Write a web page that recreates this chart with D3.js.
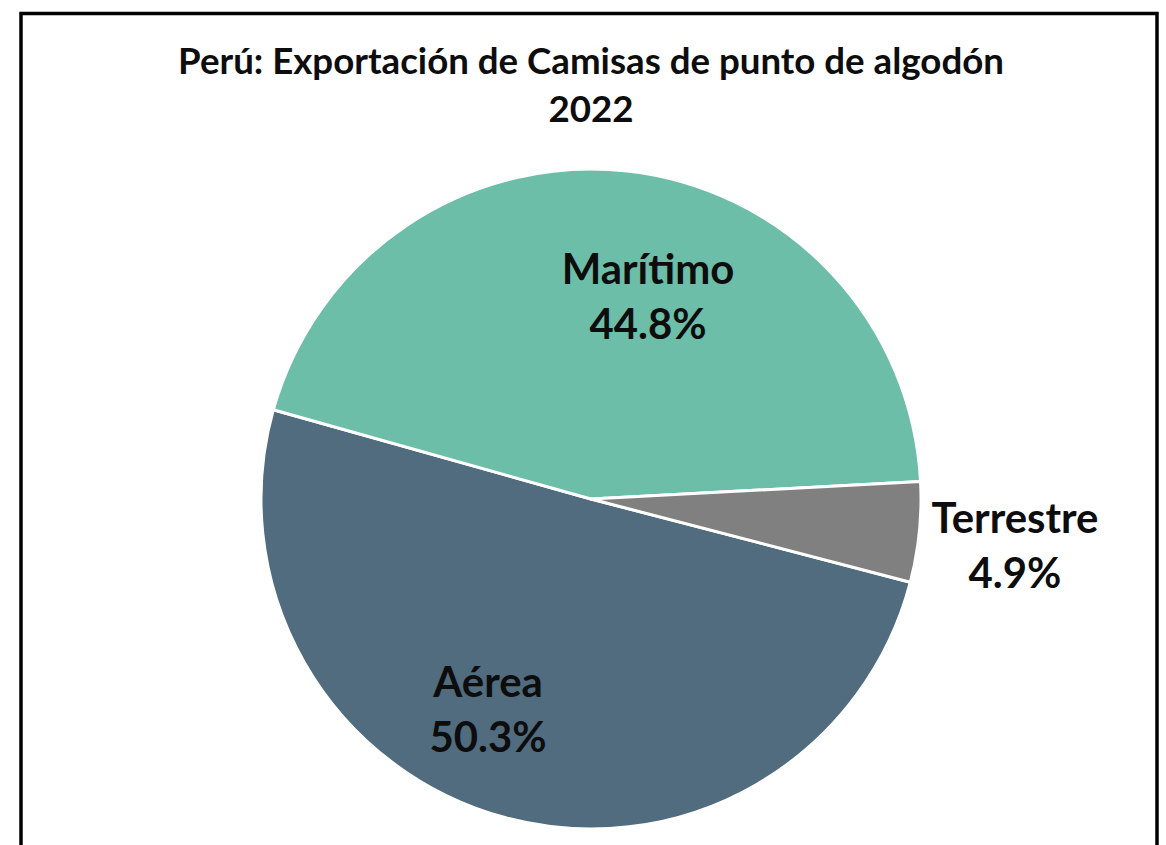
<!DOCTYPE html>
<html>
<head>
<meta charset="utf-8">
<script src="https://cdn.jsdelivr.net/npm/d3@7"></script>
<style>
  html, body { margin: 0; padding: 0; background: #fff; }
  svg { display: block; }
  text { font-family: Lato, "Open Sans", sans-serif; font-weight: bold; fill: #0d0d0d; }
</style>
</head>
<body>
<svg id="chart" width="1166" height="845"></svg>
<script>
// ---- data ----
const titleLines = ["Perú: Exportación de Camisas de punto de algodón", "2022"];
const categories = ["Aérea", "Marítimo", "Terrestre"];
const values = [50.3, 44.8, 4.9];
const colors = ["#506C7E", "#6DBEA8", "#808080"];

// ---- layout ----
const W = 1166, H = 845;
const cx = 591, cy = 499, radius = 330;
const startDeg = 104.6;
// label anchor offsets from pie centre (x centre, first baseline)
const labelOffsets = {
  "Aérea": [-103, 198],
  "Marítimo": [57, -215],
  "Terrestre": [424, 34]
};
const lineGap = 55;

const svg = d3.select("#chart");

// frame
svg.append("rect")
  .attr("x", 21).attr("y", 13.5)
  .attr("width", 1136).attr("height", 900)
  .attr("fill", "none").attr("stroke", "#000").attr("stroke-width", 3.5);

// title
const title = svg.append("text")
  .attr("text-anchor", "middle")
  .style("font-size", "33px");
title.selectAll("tspan").data(titleLines).join("tspan")
  .attr("x", cx)
  .attr("y", (d, i) => 74 + i * 48)
  .text(d => d);
// fit title font to reference width
(function () {
  const t = title.select("tspan").node();
  const w = t.getComputedTextLength();
  const fs = 33 * 826 / w;
  title.style("font-size", fs + "px");
})();

const data = categories.map((c, i) => ({ cat: c, value: values[i], color: colors[i] }));
const total = d3.sum(values);

const pie = d3.pie()
  .sort(null)
  .value(d => d.value)
  .startAngle(startDeg * Math.PI / 180)
  .endAngle(startDeg * Math.PI / 180 + 2 * Math.PI);

const arc = d3.arc().innerRadius(0).outerRadius(radius);

const g = svg.append("g").attr("transform", `translate(${cx},${cy})`);
g.selectAll("path").data(pie(data)).join("path")
  .attr("d", arc)
  .attr("fill", d => d.data.color)
  .attr("stroke", "#fff")
  .attr("stroke-width", 3)
  .attr("stroke-linejoin", "round");

const fmt = d3.format(".1%");
const labels = g.selectAll("text.lbl").data(pie(data)).join("text")
  .attr("class", "lbl")
  .attr("text-anchor", "middle")
  .style("font-size", "40px");
labels.each(function (d) {
  const [dx, dy] = labelOffsets[d.data.cat];
  const t = d3.select(this);
  t.append("tspan").attr("x", dx).attr("y", dy).text(d.data.cat);
  t.append("tspan").attr("x", dx).attr("y", dy + lineGap).text(fmt(d.data.value / total));
});
// fit label font size to reference widths (Marítimo 175, Terrestre 167, Aérea 108)
(function () {
  const targets = { "Aérea": 108, "Marítimo": 175, "Terrestre": 167 };
  let ratios = [];
  labels.each(function (d) {
    const w = this.querySelector("tspan").getComputedTextLength();
    ratios.push(targets[d.data.cat] / w);
  });
  const fs = 40 * d3.mean(ratios);
  labels.style("font-size", fs + "px");
})();
</script>
</body>
</html>
